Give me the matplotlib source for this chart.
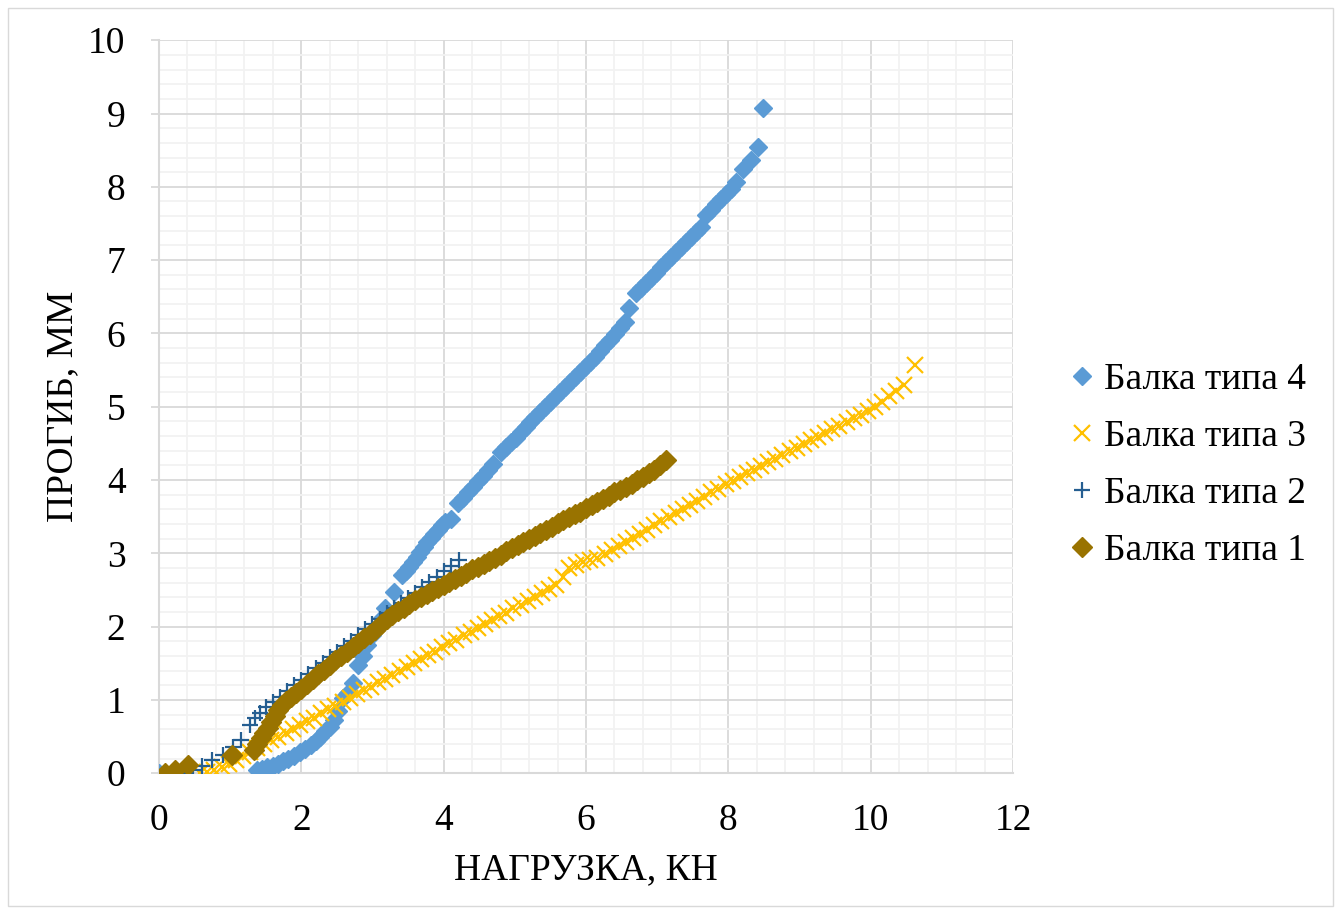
import matplotlib
matplotlib.use("Agg")
import matplotlib.pyplot as plt
from matplotlib.ticker import MultipleLocator
from matplotlib.patches import Rectangle
from matplotlib.lines import Line2D

# Балка типа 4
load4 = [0.00, 1.38, 1.45, 1.52, 1.60, 1.68, 1.75, 1.82, 1.90, 1.98, 2.05, 2.13, 2.20, 2.27,
         2.34, 2.40, 2.46, 2.52, 2.59, 2.66, 2.72, 2.80, 2.87, 2.93, 3.00, 3.07, 3.13, 3.18,
         3.30, 3.42, 3.47, 3.52, 3.57, 3.62, 3.67, 3.72, 3.77, 3.82, 3.87, 3.92, 3.97, 4.02,
         4.10, 4.20, 4.27, 4.34, 4.41, 4.48, 4.55, 4.62, 4.70, 4.80, 4.87, 4.94, 5.01, 5.08,
         5.15, 5.22, 5.29, 5.36, 5.43, 5.50, 5.57, 5.64, 5.71, 5.78, 5.85, 5.92, 5.99, 6.06,
         6.13, 6.20, 6.27, 6.34, 6.41, 6.48, 6.55, 6.61, 6.70, 6.77, 6.84, 6.91, 6.98, 7.05,
         7.12, 7.19, 7.26, 7.33, 7.40, 7.47, 7.54, 7.61, 7.69, 7.76, 7.83, 7.90, 7.97, 8.04,
         8.11, 8.21, 8.32, 8.42, 8.49]
defl4 = [0.00, 0.04, 0.06, 0.08, 0.10, 0.13, 0.17, 0.20, 0.24, 0.29, 0.33, 0.38, 0.44, 0.50,
         0.57, 0.63, 0.72, 0.85, 1.02, 1.10, 1.23, 1.47, 1.60, 1.75, 1.88, 2.00, 2.12, 2.25,
         2.47, 2.70, 2.76, 2.82, 2.88, 2.95, 3.02, 3.09, 3.15, 3.21, 3.27, 3.32, 3.38, 3.43,
         3.47, 3.68, 3.76, 3.84, 3.91, 3.98, 4.06, 4.14, 4.22, 4.38, 4.45, 4.52, 4.58, 4.65,
         4.72, 4.79, 4.86, 4.93, 5.00, 5.07, 5.13, 5.20, 5.27, 5.34, 5.40, 5.47, 5.54, 5.61,
         5.68, 5.76, 5.84, 5.91, 5.99, 6.07, 6.15, 6.35, 6.55, 6.62, 6.69, 6.76, 6.83, 6.90,
         6.97, 7.04, 7.11, 7.18, 7.25, 7.32, 7.39, 7.45, 7.62, 7.69, 7.76, 7.83, 7.90, 7.97,
         8.06, 8.24, 8.37, 8.54, 9.08]

# Балка типа 3
load3 = [0.58, 0.68, 0.78, 0.88, 0.98, 1.08, 1.18, 1.28, 1.38, 1.48, 1.58, 1.68, 1.78, 1.88,
         1.98, 2.08, 2.18, 2.28, 2.38, 2.48, 2.58, 2.68, 2.78, 2.88, 2.98, 3.08, 3.18, 3.28,
         3.38, 3.48, 3.58, 3.68, 3.78, 3.88, 3.98, 4.08, 4.18, 4.28, 4.38, 4.48, 4.58, 4.68,
         4.78, 4.88, 4.98, 5.08, 5.18, 5.28, 5.38, 5.48, 5.58, 5.68, 5.76, 5.86, 5.96, 6.06,
         6.16, 6.26, 6.36, 6.46, 6.56, 6.66, 6.76, 6.86, 6.96, 7.06, 7.16, 7.26, 7.36, 7.46,
         7.56, 7.66, 7.76, 7.86, 7.96, 8.06, 8.16, 8.26, 8.36, 8.46, 8.56, 8.66, 8.76, 8.86,
         8.96, 9.06, 9.16, 9.26, 9.36, 9.46, 9.56, 9.66, 9.76, 9.86, 9.96, 10.06, 10.16,
         10.26, 10.36, 10.46, 10.62]
defl3 = [0.00, 0.02, 0.04, 0.08, 0.13, 0.18, 0.24, 0.29, 0.34, 0.40, 0.45, 0.50, 0.55, 0.60,
         0.66, 0.71, 0.76, 0.82, 0.87, 0.92, 0.97, 1.03, 1.08, 1.13, 1.18, 1.24, 1.29, 1.34,
         1.40, 1.45, 1.50, 1.56, 1.61, 1.66, 1.72, 1.77, 1.82, 1.88, 1.93, 1.98, 2.04, 2.09,
         2.14, 2.19, 2.25, 2.30, 2.35, 2.41, 2.46, 2.51, 2.57, 2.68, 2.80, 2.84, 2.88, 2.91,
         2.94, 2.99, 3.05, 3.10, 3.16, 3.21, 3.27, 3.32, 3.38, 3.44, 3.49, 3.55, 3.60, 3.66,
         3.71, 3.77, 3.83, 3.88, 3.94, 3.99, 4.04, 4.09, 4.14, 4.19, 4.24, 4.29, 4.34, 4.39,
         4.44, 4.49, 4.54, 4.59, 4.64, 4.69, 4.74, 4.79, 4.84, 4.89, 4.94, 5.00, 5.07,
         5.15, 5.22, 5.30, 5.57]

# Балка типа 2
load2 = [0.37, 0.48, 0.60, 0.75, 0.90, 1.04, 1.15, 1.28, 1.35, 1.42, 1.50, 1.60, 1.70, 1.80,
         1.90, 2.00, 2.10, 2.20, 2.30, 2.40, 2.50, 2.60, 2.70, 2.80, 2.90, 3.00, 3.10, 3.20,
         3.30, 3.40, 3.50, 3.60, 3.70, 3.80, 3.90, 4.00, 4.10, 4.21]
defl2 = [0.00, 0.04, 0.10, 0.18, 0.25, 0.36, 0.45, 0.66, 0.75, 0.82, 0.90, 0.97, 1.04, 1.12,
         1.20, 1.27, 1.35, 1.43, 1.50, 1.58, 1.66, 1.73, 1.81, 1.89, 1.97, 2.04, 2.11, 2.18,
         2.25, 2.32, 2.39, 2.46, 2.54, 2.61, 2.68, 2.76, 2.83, 2.91]

# Балка типа 1
load1 = [0.08, 0.22, 0.41, 1.03, 1.33, 1.38, 1.43, 1.48, 1.53, 1.58, 1.63, 1.68, 1.73, 1.78,
         1.85, 1.92, 2.00, 2.08, 2.16, 2.24, 2.32, 2.40, 2.48, 2.56, 2.64, 2.72, 2.80, 2.88,
         2.96, 3.04, 3.12, 3.20, 3.28, 3.36, 3.44, 3.52, 3.60, 3.68, 3.76, 3.84, 3.92, 4.00,
         4.08, 4.16, 4.24, 4.32, 4.40, 4.48, 4.56, 4.64, 4.72, 4.80, 4.88, 4.96, 5.04, 5.12,
         5.20, 5.28, 5.36, 5.44, 5.52, 5.60, 5.68, 5.76, 5.84, 5.92, 6.00, 6.08, 6.16, 6.24,
         6.32, 6.40, 6.48, 6.56, 6.64, 6.72, 6.80, 6.88, 6.96, 7.04, 7.12]
defl1 = [0.00, 0.04, 0.11, 0.25, 0.32, 0.40, 0.48, 0.55, 0.62, 0.70, 0.78, 0.86, 0.93, 0.99,
         1.04, 1.09, 1.15, 1.22, 1.28, 1.35, 1.41, 1.48, 1.54, 1.60, 1.66, 1.72, 1.78, 1.84,
         1.90, 1.96, 2.03, 2.10, 2.16, 2.21, 2.26, 2.31, 2.36, 2.40, 2.45, 2.49, 2.53, 2.57,
         2.61, 2.65, 2.69, 2.73, 2.78, 2.82, 2.86, 2.90, 2.94, 2.98, 3.03, 3.07, 3.11, 3.15,
         3.19, 3.24, 3.28, 3.32, 3.36, 3.41, 3.45, 3.49, 3.53, 3.57, 3.62, 3.66, 3.70, 3.74,
         3.78, 3.83, 3.87, 3.91, 3.95, 4.00, 4.04, 4.09, 4.14, 4.20, 4.28]

x_label = "НАГРУЗКА, КН"
y_label = "ПРОГИБ, ММ"
names = ["Балка типа 4", "Балка типа 3", "Балка типа 2", "Балка типа 1"]

plt.rcParams["font.family"] = ["Liberation Serif", "DejaVu Serif"]
FS = 27

fig = plt.figure(figsize=(13.41, 9.14), dpi=100)
fig.patches.append(Rectangle((0.006, 0.009), 0.988, 0.982, transform=fig.transFigure,
                             fill=False, edgecolor="#D9D9D9", linewidth=1.0))
ax = fig.add_axes([0.1185, 0.154, 0.637, 0.802])

c4, c3, c2, c1 = "#5B9BD5", "#FFC000", "#255E91", "#997300"
style4 = dict(linestyle="none", marker="D", markersize=9, color=c4)
style3 = dict(linestyle="none", marker="x", markersize=11, markeredgewidth=1.6, color=c3)
style2 = dict(linestyle="none", marker="+", markersize=12, markeredgewidth=1.6, color=c2)
style1 = dict(linestyle="none", marker="D", markersize=10.5, color=c1)

ax.plot(load4, defl4, zorder=3, **style4)
ax.plot(load3, defl3, zorder=3, **style3)
ax.plot(load2, defl2, zorder=3, **style2)
ax.plot(load1, defl1, zorder=4, **style1)

ax.set_xlim(0, 12)
ax.set_ylim(0, 10)
ax.xaxis.set_major_locator(MultipleLocator(2))
ax.xaxis.set_minor_locator(MultipleLocator(0.4))
ax.yaxis.set_major_locator(MultipleLocator(1))
ax.yaxis.set_minor_locator(MultipleLocator(0.2))
ax.grid(which="major", color="#D9D9D9", linewidth=1.3, zorder=0)
ax.grid(which="minor", color="#F2F2F2", linewidth=1.3, zorder=0)
ax.set_axisbelow(True)

for side in ("top", "right"):
    ax.spines[side].set_visible(False)
for side in ("left", "bottom"):
    ax.spines[side].set_color("#D9D9D9")
    ax.spines[side].set_linewidth(1.5)

ax.tick_params(axis="y", which="major", length=6, color="#D9D9D9", width=1.3,
               labelsize=FS, pad=18)
ax.tick_params(axis="x", which="major", length=0, labelsize=FS, pad=22)
ax.tick_params(which="minor", length=0)

ax.set_xlabel(x_label, fontsize=FS, labelpad=10)
ax.set_ylabel(y_label, fontsize=FS, labelpad=6)

handles = [Line2D([], [], **style4), Line2D([], [], **style3),
           Line2D([], [], **style2), Line2D([], [], **style1)]
fig.legend(handles, names, loc="center left", bbox_to_anchor=(0.787, 0.491),
           frameon=False, fontsize=FS, handlelength=0.6, handletextpad=0.3,
           labelspacing=0.6, borderaxespad=0)

fig.savefig("out.png", dpi=100)
